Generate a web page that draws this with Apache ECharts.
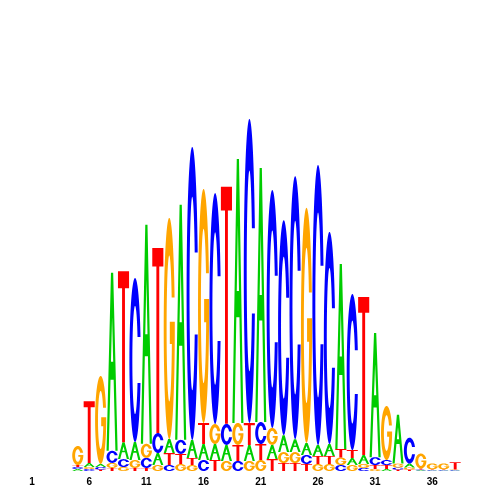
<!DOCTYPE html>
<html><head><meta charset="utf-8">
<script src="https://cdn.jsdelivr.net/npm/echarts@6/dist/echarts.min.js"></script>
<style>html,body{margin:0;padding:0;background:#fff}#c{width:500px;height:500px}</style>
</head><body><div id="c"></div>
<script>
// Sequence logo: information content (bits) of each base at each position
const positions = ['1','2','3','4','5','6','7','8','9','10','11','12','13','14','15','16','17','18','19','20','21','22','23','24','25','26','27','28','29','30','31','32','33','34','35','36','37','38'];
const heightA = [0,0,0,0, .011,.022,.017,.989,.094,.100,1.217,.067,.078,1.306,.100,.089,.089,.089,1.467,.089,1.411,.078,.094,.072,.067,.061,.067,1.028,.039,.050,.689,.011,.272,.022,.004,.003,.003,.003];
const heightC = [0,0,0,0, .011,.011,.014,.067,.044,.911,.056,.111,.033,.078,1.628,.061,1.283,.117,.056,1.689,.122,1.322,1.194,1.461,.050,1.556,1.178,.033,.867,.017,.044,.028,.011,.144,.004,.003,.003,.003];
const heightG = [0,0,0,0, .106,.011,.489,.028,.022,.044,.078,.033,1.228,.039,.033,1.300,.111,.056,.122,.056,.061,.094,.061,.061,1.306,.039,.039,.042,.033,.022,.011,.300,.022,.011,.083,.033,.033,.003];
const heightT = [0,0,0,0, .011,.344,.008,.017,.950,.017,.017,1.028,.067,.056,.039,.117,.061,1.317,.089,.122,.089,.067,.044,.044,.039,.044,.044,.047,.044,.878,.022,.022,.008,.008,.006,.003,.003,.039];
const tickLabels = ['1','6','11','16','21','26','31','36'];

const H = {A: heightA, C: heightC, G: heightG, T: heightT};
const COLOR = {A: '#00cc00', C: '#0000ff', G: '#ffa500', T: '#ff0000'};

// glyph outlines in a 100x100 box
function ept(rx, ry, t) { const r = t * Math.PI / 180; return [50 + rx * Math.cos(r), 50 - ry * Math.sin(r)]; }
function arc(rx, ry, t0, t1) {
  const pts = []; const n = 90;
  for (let k = 0; k <= n; k++) pts.push(ept(rx, ry, t0 + (t1 - t0) * k / n));
  return pts;
}
function toPath(pts) { return pts.map((p, k) => (k ? 'L' : 'M') + p[0].toFixed(2) + ' ' + p[1].toFixed(2)).join(' ') + ' Z'; }
const deg = Math.PI / 180;
const tOut = Math.asin(14 / 50) / deg, tIn = Math.asin(14 / 33) / deg;
const pathC = toPath(arc(50, 50, tOut, 360 - tOut).concat(arc(24, 33, 360 - tIn, tIn)));
const tBar = Math.asin(7 / 33) / deg;
const pathG = toPath(arc(50, 50, tOut, 360).concat([[100, 47], [55, 47], [55, 57], [50 + 24 * Math.cos(tBar * deg), 57]]).concat(arc(24, 33, 360 - tBar, tIn)));
const pathA = 'M0 100 L40 0 L60 0 L100 100 L80 100 L64 60 L36 60 L20 100 Z M50 25 L40 50 L60 50 Z';
const pathT = 'M0 0 L100 0 L100 10 L63 10 L63 100 L37 100 L37 10 L0 10 Z';
const GLYPH = {A: pathA, C: pathC, G: pathG, T: pathT};

const chart = echarts.init(document.getElementById('c'), null, {renderer: 'canvas'});
chart.setOption({
  animation: false,
  backgroundColor: '#ffffff',
  grid: {left: 26.3, right: 39.1, top: 111, bottom: 29, containLabel: false},
  xAxis: {
    type: 'category', data: positions,
    axisLine: {show: false}, axisTick: {show: false}, splitLine: {show: false},
    axisLabel: {
      interval: (i, v) => tickLabels.indexOf(v) >= 0,
      color: '#000', fontSize: 10, fontWeight: 'bold', fontFamily: 'Liberation Sans', margin: 6
    }
  },
  yAxis: {type: 'value', min: 0, max: 2, show: false, splitLine: {show: false}},
  series: [{
    type: 'custom',
    data: positions.map((p, i) => [i, heightA[i] + heightC[i] + heightG[i] + heightT[i]]),
    encode: {x: 0, y: 1},
    renderItem: function (params, api) {
      const i = api.value(0);
      const letters = ['A', 'C', 'G', 'T'].map(l => ({l: l, h: H[l][i]})).filter(d => d.h > 0).sort((a, b) => a.h - b.h);
      const w = api.size([1, 0])[0] * 0.97;
      let base = 0;
      const children = [];
      letters.forEach(d => {
        const p0 = api.coord([i, base]);
        const p1 = api.coord([i, base + d.h]);
        base += d.h;
        children.push({
          type: 'path',
          shape: {pathData: GLYPH[d.l], x: p0[0] - w / 2, y: p1[1], width: w, height: Math.max(p0[1] - p1[1], 0.01), layout: 'cover'},
          style: {fill: COLOR[d.l]}
        });
      });
      return {type: 'group', children: children};
    }
  }]
});
</script>
</body></html>
